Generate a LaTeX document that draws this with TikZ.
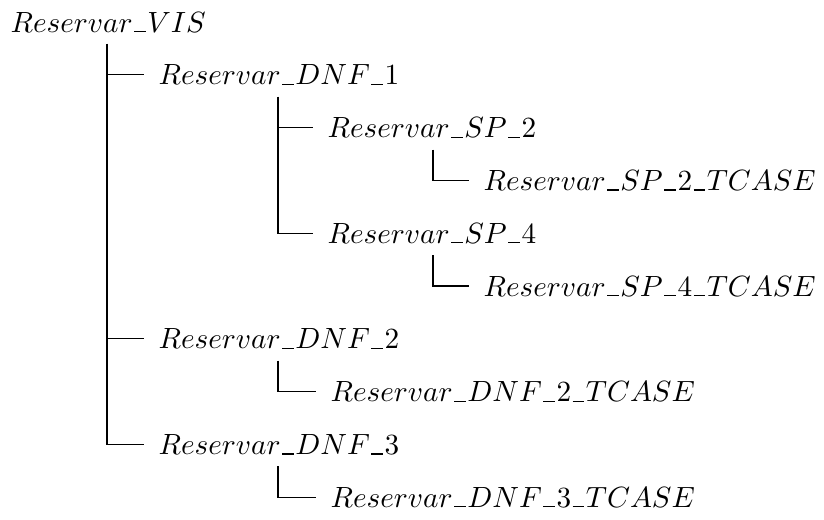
\documentclass[tikz,border=0pt]{standalone}
\newcommand\us{\mbox{\kern.05em\vrule width .4em height .04em depth 0pt\kern.05em}}
\newsavebox\probebox
\newlength\probelen
\sbox\probebox{$Reservar\us DNF\us 2\us TCASE$}
\setlength\probelen{\wd\probebox}
\pgfmathsetmacro\lblscale{123.5/\probelen}
\newcommand\lbl[1]{\scalebox{\lblscale}{$#1$}}
\begin{document}
\begin{tikzpicture}[x=0.33898pt,y=-0.33898pt,
  item/.style={anchor=west,inner xsep=4.75pt,inner ysep=0pt,text height=6.85pt,text depth=0pt},
  conn/.style={line width=0.4pt}]
\useasboundingbox (0,0) rectangle (824,519);
% nodes (rows spaced 52.8px)
\node[item] (n0) at (-4,22)     {\lbl{Reservar\us VIS}};
\node[item] (n1) at (144,74.8)  {\lbl{Reservar\us DNF\us 1}};
\node[item] (n2) at (313,127.6) {\lbl{Reservar\us SP\us 2}};
\node[item] (n3) at (469,180.4) {\lbl{Reservar\us SP\us 2\us TCASE}};
\node[item] (n4) at (313,233.2) {\lbl{Reservar\us SP\us 4}};
\node[item] (n5) at (469,286)   {\lbl{Reservar\us SP\us 4\us TCASE}};
\node[item] (n6) at (144,338.8) {\lbl{Reservar\us DNF\us 2}};
\node[item] (n7) at (316,391.6) {\lbl{Reservar\us DNF\us 2\us TCASE}};
\node[item] (n8) at (144,444.4) {\lbl{Reservar\us DNF\us 3}};
\node[item] (n9) at (316,497.2) {\lbl{Reservar\us DNF\us 3\us TCASE}};
% vertical starts
\coordinate (v0) at (107,43.5);
\coordinate (v1) at (278,96.5);
\coordinate (v2) at (433,149.5);
\coordinate (v4) at (433,255);
\coordinate (v6) at (278,360.5);
\coordinate (v8) at (278,466);
% connectors
\draw[conn] (v0) |- (n8.west);
\draw[conn] (v0 |- n1.west) -- (n1.west);
\draw[conn] (v0 |- n6.west) -- (n6.west);
\draw[conn] (v1) |- (n4.west);
\draw[conn] (v1 |- n2.west) -- (n2.west);
\draw[conn] (v2) |- (n3.west);
\draw[conn] (v4) |- (n5.west);
\draw[conn] (v6) |- (n7.west);
\draw[conn] (v8) |- (n9.west);
\end{tikzpicture}
\end{document}
